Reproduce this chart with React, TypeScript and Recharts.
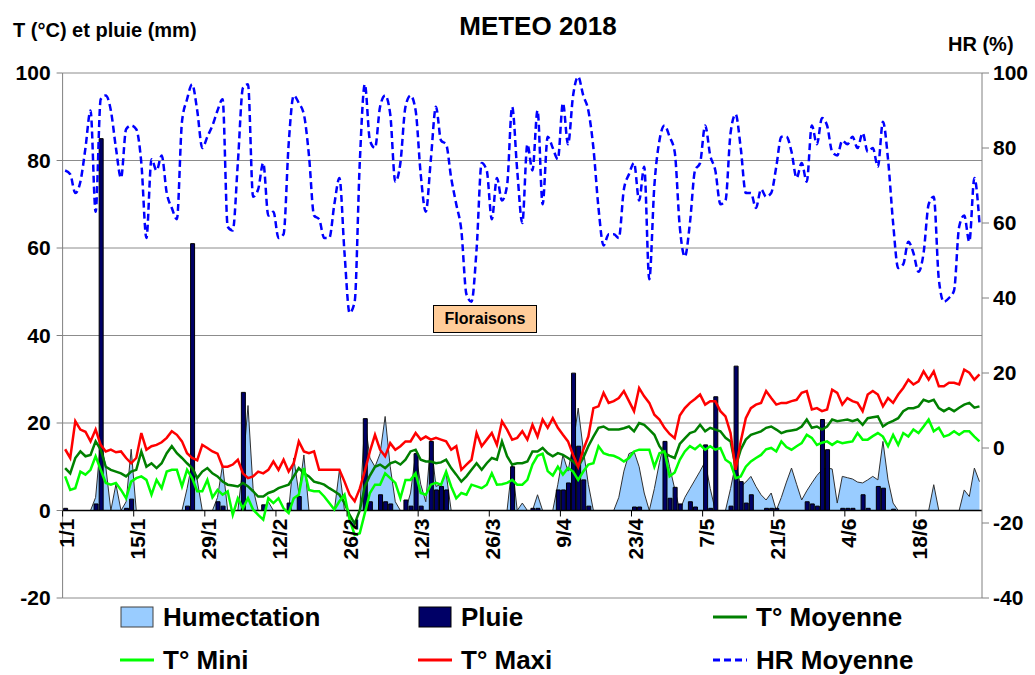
import React from 'react';
import {
  ComposedChart,
  Area,
  Bar,
  Line,
  XAxis,
  YAxis,
  CartesianGrid,
  ReferenceLine,
  ReferenceDot,
} from 'recharts';

// Daily values, 1/1/2018 -> 30/6/2018 (181 days)
const HUMECTATION = [
  0, 0, 0, 0, 0, 0, 3, 16, 10, 0,
  6, 0, 2, 14, 0, 0, 0, 0, 0, 0,
  0, 0, 0, 0, 5, 11, 7, 0, 0, 0,
  3, 10.5, 0, 0, 0, 10, 24, 5, 0, 0,
  2, 0, 0, 0, 0, 12, 4, 12.7, 0, 0,
  0, 0, 0, 0, 9.3, 0, 0, 0, 0, 20.7,
  12, 10, 13, 21.5, 10, 2, 0, 0, 4, 13,
  6, 2, 16, 5.5, 6, 8.5, 0, 0, 0, 0,
  0, 0, 0, 0, 0, 0, 0, 0, 10.5, 0,
  1.7, 0, 0, 3.6, 0, 0, 0, 6, 12.7, 9,
  15, 23.4, 14, 6, 0, 0, 0, 0, 0, 3,
  9, 13, 13.5, 10, 4, 0, 5, 11, 15.8, 10,
  5, 0, 3, 5, 7, 9, 11.2, 5, 0, 0,
  0, 5, 10.8, 5.5, 6.5, 7.8, 5.5, 3.6, 2.4, 4,
  0, 3, 6.5, 9.7, 6, 2.4, 4.5, 6.3, 8, 9.3,
  9.7, 9.5, 1.7, 7.8, 7.5, 7.2, 6.5, 6.3, 7, 7.8,
  7, 15.8, 7, 1.7, 0, 0, 0, 0, 0, 0,
  0, 5.9, 0, 0, 0, 0, 0, 4.7, 3.2, 9.7,
  6.6,
];

const PLUIE = [
  0.5, 0, 0, 0, 0, 0, 1.5, 85, 0, 0,
  0, 0, 0.5, 2.6, 0, 0, 0, 0, 0, 0,
  0, 0, 0, 0, 1, 61, 0, 0, 0, 0,
  2, 1, 0, 0, 0, 27, 0, 0, 0, 1.3,
  0, 0, 0, 0, 1.7, 0, 3.2, 0, 0, 0,
  0, 0, 0, 0, 0, 0, 0, 0, 0, 21,
  2, 0, 3.6, 2, 1.5, 0, 0, 2.4, 1, 13,
  1, 0, 15.8, 4.7, 5.5, 4.7, 0, 0, 0, 0,
  0, 0, 0, 0, 0, 0, 0, 0, 10, 0,
  0, 0, 0.5, 0.5, 0, 0, 0, 4.7, 4.7, 6.3,
  31.4, 14.7, 7, 1, 0, 0, 0, 0, 0, 0,
  0, 0, 0.8, 0.8, 0, 0, 0, 0, 15.8, 2.8,
  5.3, 1.5, 0, 2, 0.8, 0, 15, 0.5, 26, 0,
  0, 1, 33, 6.6, 1.7, 3.6, 0, 0, 0.5, 0.5,
  0.5, 0, 0, 0, 0, 0, 2, 1.5, 1, 20.8,
  13.9, 0, 0, 0.5, 0.5, 0.5, 0, 3.6, 0.5, 0,
  5.5, 5.1, 0, 0.3, 0, 0, 0, 0, 0, 0,
  0, 0, 0, 0, 0, 0, 0, 0, 0, 0,
  0,
];

const T_MOYENNE = [
  9.7, 8.5, 12, 13.5, 12.4, 12.7, 15.8, 13.9, 10, 9.3,
  8.9, 8.5, 7.8, 8.9, 9.3, 13.5, 10, 10.8, 9.7, 10.8,
  13.1, 14.7, 13.1, 12, 10.8, 9.7, 7.4, 8.9, 9.7, 8.5,
  7.8, 6.6, 5.9, 5.7, 5.5, 6.3, 5.5, 4.4, 3.2, 3.2,
  4, 4.4, 5.1, 5.5, 5.9, 7.8, 9.7, 8.5, 7.8, 6.6,
  6.3, 5.9, 5.1, 4.4, 3.6, 1.7, -1, -3, 0, 5.5,
  8, 10, 10.5, 9.7, 10.8, 11.2, 10.5, 11.6, 13.5, 13.9,
  11.6, 11.2, 11.2, 10.8, 11, 11.6, 9.7, 8.2, 6.6, 7.8,
  9.3, 10.8, 9.3, 10.8, 12, 11.6, 15.8, 12.4, 10.5, 10.8,
  10.8, 11.2, 13.5, 13.5, 14.3, 13.1, 12.4, 13.1, 12.7, 12,
  11.2, 10, 12, 14.7, 16.9, 18.9, 19.2, 18.5, 18.5, 18.5,
  18.8, 19.2, 18.1, 20, 19.6, 18.5, 17.3, 14.7, 13.1, 12.5,
  12, 15.2, 16.5, 17.7, 18.1, 19.6, 18.1, 18.9, 18.5, 18.1,
  16.6, 15.8, 10, 13.9, 16.2, 17.3, 17.7, 18.1, 18.9, 19.2,
  18.5, 17.7, 18.1, 18.3, 18.5, 19.2, 20.8, 18.9, 19.2, 18.5,
  19.2, 20.8, 20.4, 20.6, 20.8, 20.4, 20.8, 19.6, 21.1, 21.3,
  21.5, 19.2, 20, 20.5, 21.1, 22.7, 23.4, 23.4, 23.8, 25.3,
  24.9, 25.3, 23.4, 22.7, 23.4, 22.7, 23.5, 24.2, 24.6, 23.5,
  23.8,
];

const T_MINI = [
  7.8, 4.7, 5.1, 8.9, 8.2, 9.3, 12.4, 9.3, 6.3, 5.9,
  6.3, 4.7, 2.8, 6.6, 7.4, 7.8, 7, 3.6, 7, 5.1,
  8.9, 9.3, 9.3, 5.5, 9.3, 7.4, 4.4, 4.4, 7, 3,
  4.7, 3.6, 4.4, -1, 2.8, 0.5, 2.8, 0.2, -1, -2.1,
  2.8, 1.7, 2.8, 0.5, -0.6, 2.8, 3.6, 9.7, 4.7, 4.4,
  4.4, 3.2, 1.7, 0.2, 2.1, 3.6, -2.1, -5.6, -5.2, -0.6,
  4, 5.9, 5.9, 8.5, 7.4, 6.3, 2.8, 7, 7, 8.5,
  4, 3.6, 5.9, 6.3, 5.9, 8.9, 5.5, 2.8, 4, 3.6,
  5.9, 5.5, 5.1, 5.9, 8.5, 5.9, 6, 6.3, 7, 5.9,
  5.9, 7, 10.5, 12.5, 13, 9, 8, 10, 8.2, 9.7,
  8.9, 7, 8.9, 10.5, 10.8, 14.7, 13.1, 12.7, 12.5, 12,
  11.2, 12, 13.5, 13.9, 13.9, 13.9, 10, 13.1, 13.5, 7.8,
  8.7, 11.6, 13.5, 14.7, 14, 15, 13.9, 14.7, 13.9, 14.3,
  11.6, 10.8, 7.4, 7.8, 10, 11.2, 12, 12.7, 14, 14.3,
  13.5, 15.8, 14.5, 13.9, 14.7, 15.4, 17.3, 16.6, 15, 15.5,
  15.8, 15, 15.8, 15.4, 15.6, 15.8, 17.7, 16.2, 16.2, 17,
  17.7, 16.9, 14.7, 17.3, 15, 17.7, 16.9, 18.5, 17.7, 19.2,
  20.8, 18.1, 18.9, 16.9, 17.3, 18.1, 17.3, 18.1, 18.1, 16.9,
  15.8,
];

const T_MAXI = [
  14, 12, 20.4, 18.5, 18, 15.8, 18.5, 15, 13.5, 13.9,
  13.3, 13.5, 12, 10.8, 12, 17.7, 13.9, 14.7, 15, 15.6,
  16.6, 18.1, 17.3, 15.8, 13.1, 12, 11.5, 15, 14.3, 13.5,
  13, 10, 10, 10.5, 11.6, 8.5, 7.4, 7.8, 8.9, 8.5,
  9.3, 11.2, 9.3, 11.6, 8.9, 10.8, 15.8, 13.5, 13.1, 13.5,
  9.3, 9.3, 9.3, 9.3, 9.3, 6.6, 3.6, 2.1, 5, 9,
  13.5, 17.3, 13.9, 12.4, 15.4, 13.9, 14.7, 15.8, 15.8, 17.7,
  16.2, 16.9, 16.2, 16.6, 16.2, 15.8, 13.9, 14.7, 9.3, 10.5,
  11.6, 17.7, 14.7, 16.2, 17.7, 15, 20.4, 18.5, 16.2, 16.6,
  18.1, 16.2, 19.6, 16.9, 20.8, 18.9, 21.1, 18.9, 17.3, 15.8,
  12.7, 10, 13.9, 16.9, 23.4, 23.8, 26.9, 24.6, 25, 25.7,
  27.3, 25, 22.7, 28, 26.1, 24.6, 21.9, 20.8, 18.9, 17.5,
  16.5, 21.7, 23.4, 24.6, 25.5, 26.5, 24.2, 25, 25, 22.7,
  21.5, 17.7, 9.3, 15.8, 21.1, 23.4, 24.2, 24.6, 27.3, 25.7,
  24.2, 24.6, 24.6, 25, 25.3, 26.9, 27.3, 23.1, 23.4, 22.7,
  23.1, 27.6, 26.9, 24.2, 25.7, 25, 24.6, 22.7, 26.5, 27.3,
  26.5, 23.8, 25.7, 24.6, 26.5, 28, 29.9, 28.8, 29.5, 31.8,
  29.9, 31.8, 28.4, 28.4, 29.2, 29.2, 28.8, 32.2, 31.5, 29.9,
  31.1,
];

const HR_MOYENNE = [
  74, 73, 68, 71, 80, 90, 63, 93, 94, 90,
  80, 72, 85, 86, 85, 76, 56, 77, 74, 78,
  68, 64, 61, 87, 93, 97, 90, 80, 83, 86,
  90, 93, 59, 58, 76, 96, 97, 67, 69, 76,
  62, 63, 56, 57, 81, 94, 92, 89, 78, 62,
  61, 56, 56, 65, 72, 52, 36, 39, 76, 97,
  82, 80, 91, 94, 89, 71, 76, 91, 94, 90,
  73, 63, 77, 91, 82, 81, 72, 65, 58, 41,
  39, 53, 76, 74, 61, 72, 66, 70, 91, 74,
  60, 81, 74, 90, 65, 83, 80, 77, 92, 81,
  94, 99, 94, 90, 80, 64, 54, 57, 57, 56,
  69, 73, 76, 66, 75, 45, 70, 82, 86, 83,
  79, 59, 51, 60, 74, 76, 86, 78, 74, 65,
  66, 84, 89, 80, 68, 68, 64, 69, 67, 68,
  75, 83, 83, 79, 72, 76, 71, 86, 81, 88,
  86, 79, 78, 82, 81, 83, 80, 84, 79, 80,
  75, 87, 77, 60, 48, 49, 55, 52, 47, 52,
  65, 67, 45, 39, 40, 42, 59, 62, 55, 72,
  60,
];

const TICK_DAYS = [0, 14, 28, 42, 56, 70, 84, 98, 112, 126, 140, 154, 168];
const TICK_LABELS = ['1/1', '15/1', '29/1', '12/2', '26/2', '12/3', '26/3', '9/4', '23/4', '7/5', '21/5', '4/6', '18/6'];
const LEFT_TICKS = [-20, 0, 20, 40, 60, 80, 100];
const RIGHT_TICKS = [-40, -20, 0, 20, 40, 60, 80, 100];

const DAY_COUNT = HR_MOYENNE.length;

// each day occupies one band; marks sit at the band centre
const data = HR_MOYENNE.map((hr, i) => ({
  day: i + 0.5,
  hum: HUMECTATION[i],
  pluie: PLUIE[i],
  tmoy: T_MOYENNE[i],
  tmin: T_MINI[i],
  tmax: T_MAXI[i],
  hr,
}));

const FONT = '"Liberation Sans", Arial, sans-serif';

const makeDateTick = (label: string) => (props: any) => {
  const { cx, cy } = props;
  const tx = cx + 11;
  const ty = cy + 8;
  return (
    <g>
      <line x1={cx} y1={cy} x2={cx} y2={cy + 6} stroke="#000" strokeWidth={1} />
      <text
        x={tx}
        y={ty}
        transform={`rotate(-90 ${tx} ${ty})`}
        textAnchor="end"
        fontSize={21}
        fontWeight="bold"
        fontFamily={FONT}
        fill="#000"
      >
        {label}
      </text>
    </g>
  );
};

const LEGEND = [
  { name: 'Humectation', kind: 'area', color: '#99CCFF', left: 120, top: 617 },
  { name: 'Pluie', kind: 'bar', color: '#000066', left: 418, top: 617 },
  { name: 'T° Moyenne', kind: 'line', color: '#008000', left: 713, top: 617 },
  { name: 'T° Mini', kind: 'line', color: '#00FF00', left: 120, top: 660 },
  { name: 'T° Maxi', kind: 'line', color: '#FF0000', left: 418, top: 660 },
  { name: 'HR Moyenne', kind: 'dash', color: '#0000FF', left: 713, top: 660 },
];

const LegendSwatch = ({ kind, color }: { kind: string; color: string }) => (
  <svg width={34} height={22} style={{ display: 'block' }}>
    {kind === 'area' && <rect x={1} y={1} width={32} height={20} fill={color} stroke="#404040" strokeWidth={1} />}
    {kind === 'bar' && <rect x={1} y={1} width={32} height={20} fill={color} stroke="#000" strokeWidth={1} />}
    {kind === 'line' && <line x1={0} y1={11} x2={34} y2={11} stroke={color} strokeWidth={3} />}
    {kind === 'dash' && <line x1={0} y1={11} x2={34} y2={11} stroke={color} strokeWidth={3} strokeDasharray="7 4" />}
  </svg>
);

export default function App() {
  return (
    <div
      style={{
        position: 'absolute',
        left: 0,
        top: 0,
        width: 1035,
        height: 675,
        background: '#fff',
        fontFamily: FONT,
        overflow: 'hidden',
      }}
    >
      <ComposedChart
        width={1035}
        height={675}
        data={data}
        margin={{ top: 73, right: 0, bottom: 77, left: 0 }}
      >
        <CartesianGrid yAxisId="left" vertical={false} stroke="#8c8c8c" strokeWidth={1} />
        <XAxis type="number" dataKey="day" domain={[0, DAY_COUNT]} hide height={0} allowDataOverflow />
        <YAxis
          yAxisId="left"
          domain={[-20, 100]}
          ticks={LEFT_TICKS}
          interval={0}
          width={62.6}
          tickSize={6}
          tickMargin={6}
          axisLine={{ stroke: '#808080' }}
          tickLine={{ stroke: '#808080' }}
          tick={{ fill: '#000', fontSize: 21, fontWeight: 'bold' }}
          allowDataOverflow
        />
        <YAxis
          yAxisId="right"
          orientation="right"
          domain={[-40, 100]}
          ticks={RIGHT_TICKS}
          interval={0}
          width={53}
          tickSize={7}
          tickMargin={4}
          axisLine={{ stroke: '#808080' }}
          tickLine={{ stroke: '#808080' }}
          tick={{ fill: '#000', fontSize: 21, fontWeight: 'bold' }}
          allowDataOverflow
        />
        <Area
          yAxisId="left"
          type="linear"
          dataKey="hum"
          fill="#99CCFF"
          fillOpacity={1}
          stroke="#303030"
          strokeWidth={1}
          isAnimationActive={false}
          dot={false}
          activeDot={false}
        />
        <Bar
          yAxisId="left"
          dataKey="pluie"
          fill="#000066"
          stroke="#000"
          strokeWidth={1}
          barSize={4}
          isAnimationActive={false}
        />
        <ReferenceLine yAxisId="left" y={0} stroke="#000" strokeWidth={1.5} />
        {TICK_DAYS.map((d, i) => (
          <ReferenceDot
            key={TICK_LABELS[i]}
            yAxisId="left"
            x={d}
            y={0}
            r={0}
            ifOverflow="visible"
            shape={makeDateTick(TICK_LABELS[i])}
          />
        ))}
        <Line yAxisId="left" type="linear" dataKey="tmoy" stroke="#008000" strokeWidth={2.5} dot={false} activeDot={false} isAnimationActive={false} />
        <Line yAxisId="left" type="linear" dataKey="tmin" stroke="#00FF00" strokeWidth={2.5} dot={false} activeDot={false} isAnimationActive={false} />
        <Line yAxisId="left" type="linear" dataKey="tmax" stroke="#FF0000" strokeWidth={2.5} dot={false} activeDot={false} isAnimationActive={false} />
        <Line yAxisId="right" type="monotone" dataKey="hr" stroke="#0000FF" strokeWidth={2.5} strokeDasharray="7 4" dot={false} activeDot={false} isAnimationActive={false} />
      </ComposedChart>

      <div style={{ position: 'absolute', left: 0, width: 1076, top: 11, textAlign: 'center', fontSize: 26, fontWeight: 'bold' }}>
        METEO 2018
      </div>
      <div style={{ position: 'absolute', left: 13, top: 19, fontSize: 20, fontWeight: 'bold' }}>
        T (°C) et pluie (mm)
      </div>
      <div style={{ position: 'absolute', left: 948, top: 33, fontSize: 20, fontWeight: 'bold' }}>HR (%)</div>

      <div
        style={{
          position: 'absolute',
          left: 433,
          top: 305,
          width: 104,
          height: 28,
          boxSizing: 'border-box',
          background: '#FFCC99',
          border: '1px solid #000',
          fontSize: 16,
          fontWeight: 'bold',
          display: 'flex',
          alignItems: 'center',
          justifyContent: 'center',
        }}
      >
        Floraisons
      </div>

      {LEGEND.map((item) => (
        <div
          key={item.name}
          style={{
            position: 'absolute',
            left: item.left,
            top: item.top - 15,
            height: 30,
            display: 'flex',
            alignItems: 'center',
            gap: 9,
            fontSize: 26,
            fontWeight: 'bold',
            whiteSpace: 'nowrap',
          }}
        >
          <LegendSwatch kind={item.kind} color={item.color} />
          <span>{item.name}</span>
        </div>
      ))}
    </div>
  );
}
